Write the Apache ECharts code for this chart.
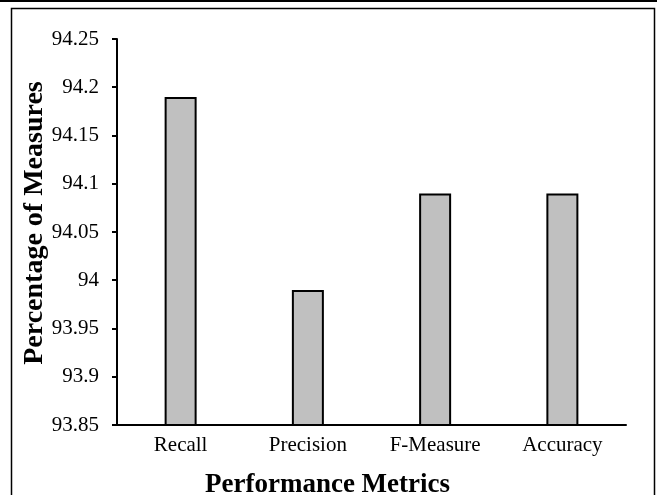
<!DOCTYPE html>
<html><head><meta charset="utf-8">
<script src="https://cdn.jsdelivr.net/npm/echarts@6/dist/echarts.min.js"></script>
<style>html,body{margin:0;padding:0;background:#fff}#c{width:657px;height:495px}</style>
</head><body><div id="c"></div>
<script>
const categories = ['Recall', 'Precision', 'F-Measure', 'Accuracy'];
const values = [94.19, 93.99, 94.09, 94.09];
const yMin = 93.85, yMax = 94.25, yStep = 0.05;
const xTitle = 'Performance Metrics';
const yTitle = 'Percentage of Measures';

const chart = echarts.init(document.getElementById('c'), null, {renderer: 'canvas'});
const font = '"Liberation Serif", "Times New Roman", serif';
chart.setOption({
  animation: false,
  backgroundColor: '#fff',
  graphic: [
    {type: 'line', shape: {x1: 0, y1: 1, x2: 657, y2: 1}, style: {stroke: '#000', lineWidth: 2}},
    {type: 'rect', shape: {x: 11.5, y: 8.5, width: 643, height: 500}, style: {fill: null, stroke: '#000', lineWidth: 1.5}}
  ],
  grid: {left: 117, right: 31, top: 39, bottom: 70, containLabel: false, outerBoundsMode: 'none'},
  xAxis: {
    type: 'category', data: categories,
    axisLine: {lineStyle: {color: '#000', width: 2}},
    axisTick: {show: false},
    axisLabel: {color: '#000', fontFamily: font, fontSize: 21, margin: 10},
    name: xTitle, nameLocation: 'middle', nameGap: 47, nameMoveOverlap: false,
    nameTextStyle: {color: '#000', fontFamily: font, fontSize: 27, fontWeight: 'bold', padding: [0, 88, 0, 0]}
  },
  yAxis: {
    type: 'value', min: yMin, max: yMax, interval: yStep,
    axisLine: {show: true, lineStyle: {color: '#000', width: 2}},
    axisTick: {show: true, length: 5, lineStyle: {color: '#000', width: 2}},
    splitLine: {show: false},
    axisLabel: {color: '#000', fontFamily: font, fontSize: 21, margin: 18,
      formatter: v => String(parseFloat(v.toFixed(2)))},
    name: yTitle, nameLocation: 'middle', nameGap: 68, nameMoveOverlap: false,
    nameTextStyle: {color: '#000', fontFamily: font, fontSize: 28, fontWeight: 'bold', padding: [0, 0, 0, 18]}
  },
  series: [{
    type: 'bar', data: values, barWidth: 32,
    itemStyle: {color: '#c0c0c0', borderColor: '#000', borderWidth: 2}
  }]
});
</script></body></html>
